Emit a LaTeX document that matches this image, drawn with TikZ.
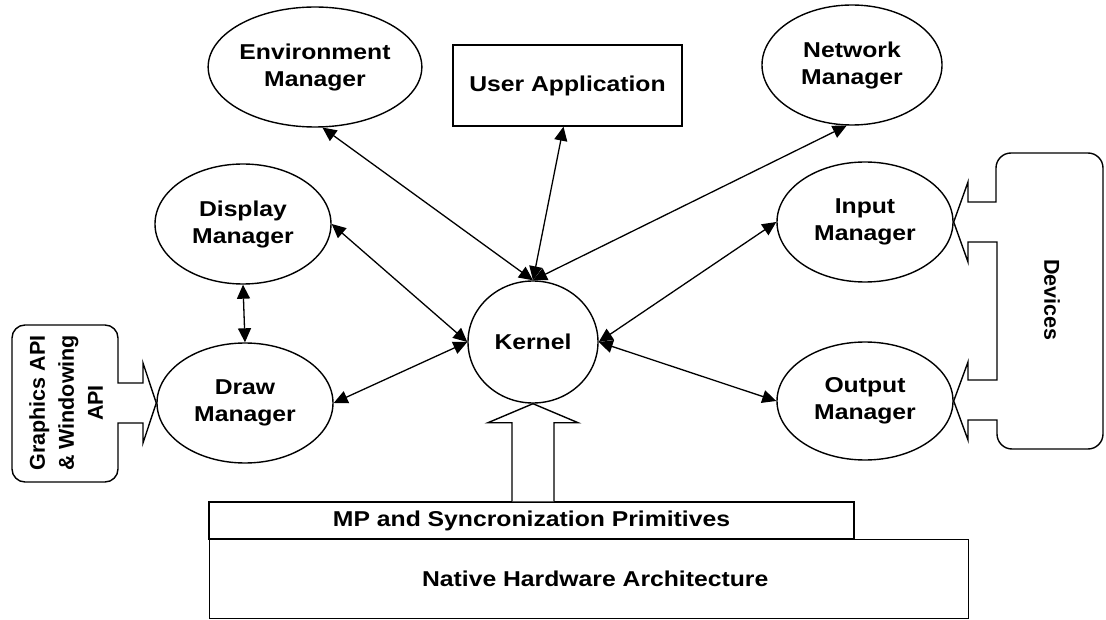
\documentclass[tikz,border=0pt]{standalone}
\usepackage{fontspec}
\setmainfont{Liberation Sans}[FakeStretch=1.15]
\newfontfamily\uprightlbl{Liberation Sans}
\usetikzlibrary{shapes.geometric,arrows.meta,calc}

\begin{document}
\begin{tikzpicture}[x=1pt,y=-1pt,
  every node/.style={font=\fontsize{21.5}{27}\selectfont\bfseries},
  mgr/.style={draw, ellipse, line width=1.4pt, minimum width=176pt,
              minimum height=120pt, inner sep=0pt, align=center},
  boxnode/.style={draw, rectangle, line width=1.4pt, inner sep=0pt},
  outline/.style={draw, line width=1.4pt, line join=miter},
  link/.style={line width=1.3pt, {Triangle[length=14pt,width=13pt]}-{Triangle[length=14pt,width=13pt]}},
]
\useasboundingbox (0,0) rectangle (1106,620);

% managers around the kernel
\node[mgr, minimum width=170pt] (env) at (315,67) {Environment\\Manager};
\node[boxnode, minimum width=229pt, minimum height=81pt] (ua) at (567.5,85.5) {User Application};
\node[mgr, minimum width=180pt] (net) at (852,65) {Network\\Manager};
\node[mgr] (disp) at (243,224) {Display\\Manager};
\node[mgr] (drw) at (245,403) {Draw\\Manager};
\node[mgr, minimum width=130pt, minimum height=122pt] (kern) at (533,342) {Kernel};
\node[mgr] (inp) at (865,222) {Input\\Manager};
\node[mgr, minimum height=118pt] (out) at (865,401) {Output\\Manager};

% hardware layers
\node[boxnode, minimum width=645pt, minimum height=37pt] (mp) at (531.5,520.5)
  {MP and Syncronization Primitives};
\node[boxnode, minimum width=759pt, minimum height=79pt, anchor=north west] (hw) at (209,539) {};
\node (hwlbl) at ($(hw.center)+(6,0)$) {Native Hardware Architecture};

% connectors
\draw[link] (kern.north) -- (env.-83);
\draw[link] (kern.north) -- ($(ua.south)+(-4,0)$);
\draw[link] (kern.north) -- (net.-95);
\draw[link] (disp.south) -- (drw.north);
\draw[link] (disp.east) -- (kern.west);
\draw[link] (drw.east) -- (kern.west);
\draw[link] (kern.east) -- (inp.west);
\draw[link] (kern.east) -- (out.west);

% hollow arrow from the primitives layer up into the kernel
\coordinate (ab) at (kern.south |- mp.north);
\draw[outline, fill=white]
  ($(ab)+(-21,0)$) -- ($(kern.south)+(-21,19)$) -- ($(kern.south)+(-45,19)$)
  -- (kern.south) -- ($(kern.south)+(45,19)$) -- ($(kern.south)+(21,19)$)
  -- ($(ab)+(21,0)$);

% graphics / windowing API plug on the draw manager
\draw[outline]
  (143,363) -- (143,383) -- (118,383)
  [rounded corners=13pt] -- (118,325) -- (12,325) -- (12,482) -- (118,482)
  [sharp corners] -- (118,423) -- (143,423) -- (143,443) -- (drw.west) -- cycle;
\node[rotate=90, align=center, font=\fontsize{21.5}{29}\selectfont\bfseries\uprightlbl]
  (gapi) at (66,403) {Graphics API\\\& Windowing\\API};

% devices plugged into the input and output managers
\draw[outline]
  (968,182) -- (968,202) -- (996,202)
  [rounded corners=15pt] -- (996,153) -- (1103,153) -- (1103,449) -- (997,449)
  [sharp corners] -- (997,420) -- (968,420) -- (968,440) -- (out.east)
  -- (968,362) -- (968,380) -- (997,380) -- (997,242) -- (968,242)
  -- (968,262) -- (inp.east) -- cycle;
\node[rotate=-90, font=\fontsize{21.5}{27}\selectfont\bfseries\uprightlbl] (dev) at (1052,300) {Devices};
\end{tikzpicture}
\end{document}
